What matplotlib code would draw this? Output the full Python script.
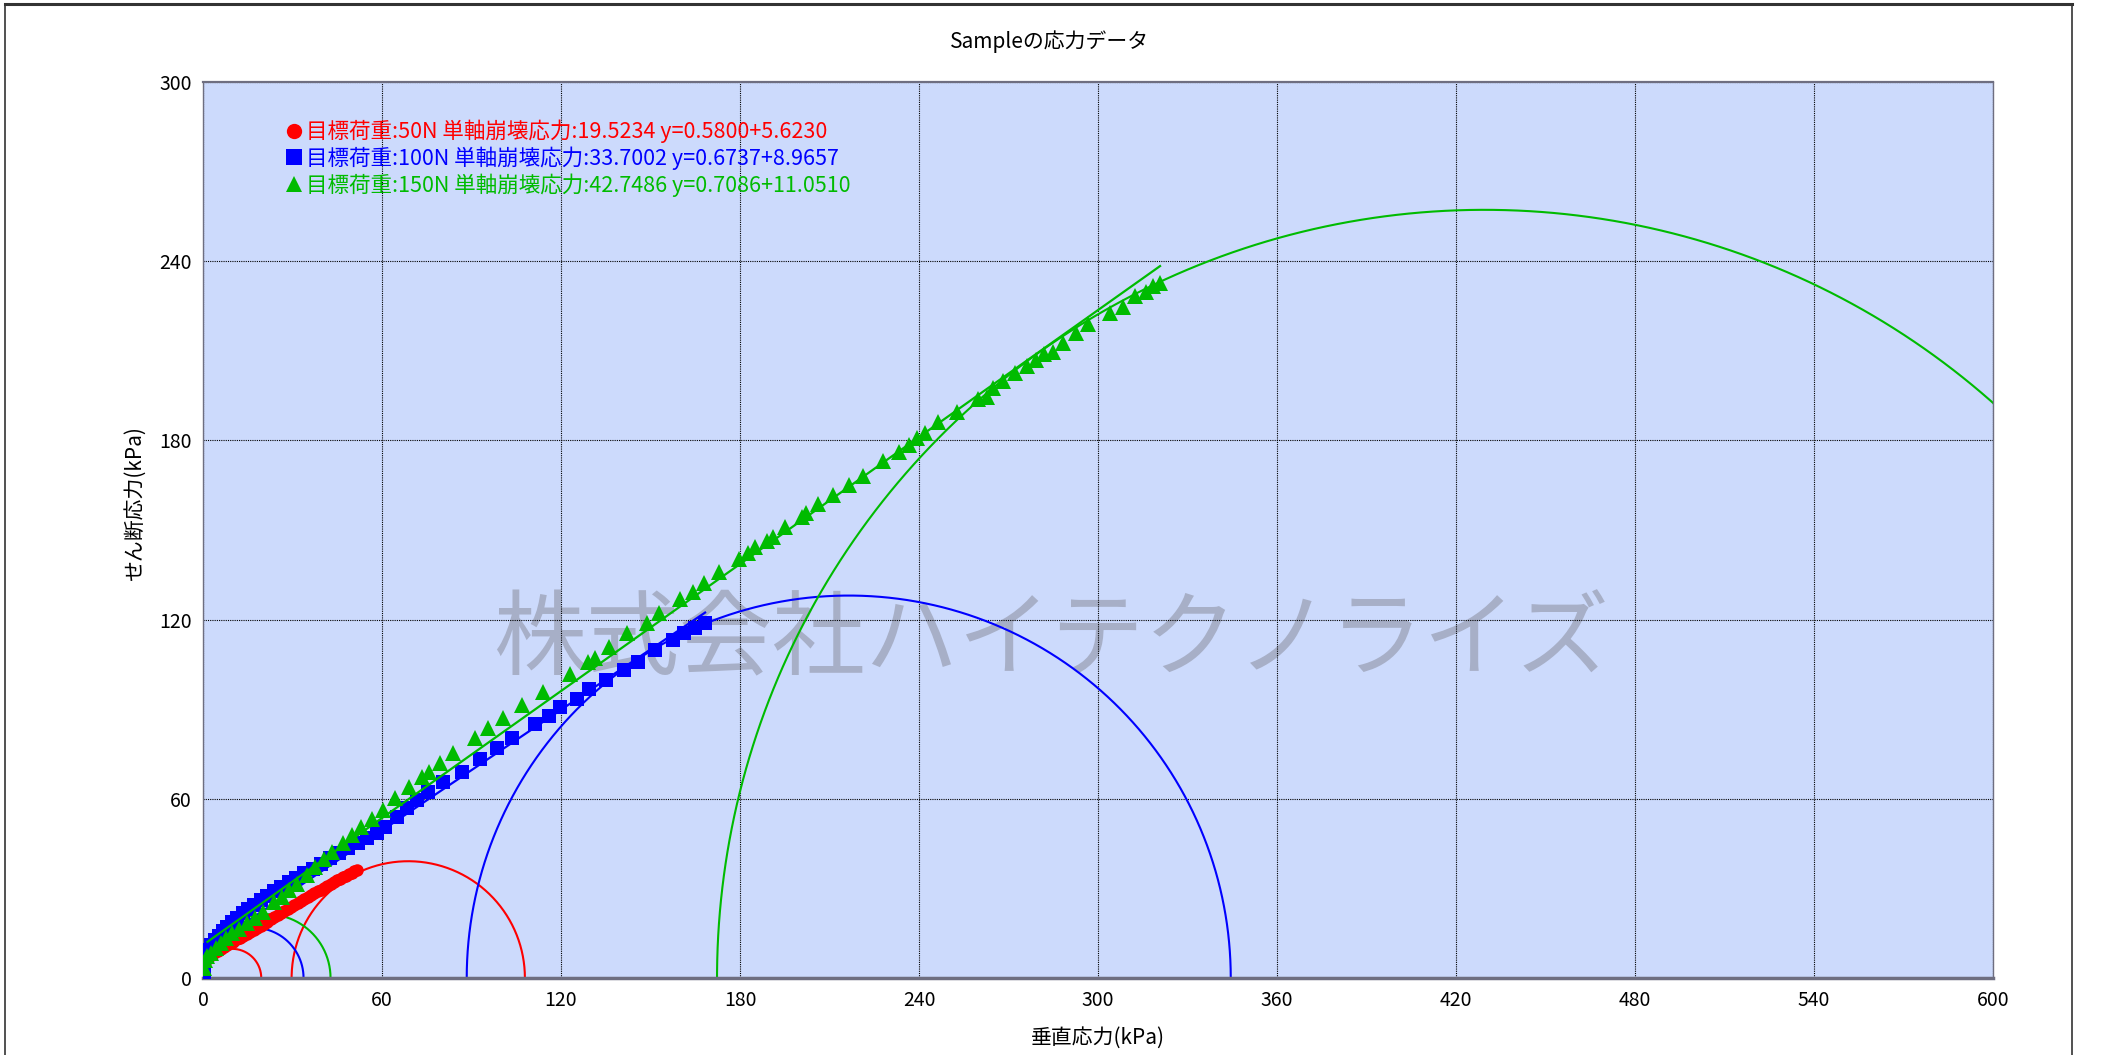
import matplotlib.pyplot as plt
from matplotlib.lines import Line2D
import numpy as np

plt.rcParams['font.family'] = ['Noto Sans CJK JP', 'DejaVu Sans']

# 測定点 (垂直応力, せん断応力) kPa
red_x = [0.3, 0.8, 1.5, 2.3, 3.2, 4.1, 5.0, 6.0, 7.0, 8.0, 9.1, 10.2, 11.3, 12.4, 13.5,
         14.6, 15.8, 17.0, 18.1, 19.3, 20.4, 21.5, 22.7, 23.8, 25.0, 26.1, 27.2, 28.4,
         29.5, 30.6, 31.8, 32.9, 34.0, 35.1, 36.2, 37.3, 38.4, 39.5, 40.6, 41.7, 42.8,
         43.9, 44.9, 45.9, 46.9, 47.9, 48.9, 49.8, 50.7, 51.5]
red_y = [3.5, 5.2, 6.3, 7.2, 7.9, 8.6, 9.2, 9.8, 10.4, 11.0, 11.6, 12.2, 12.9, 13.5, 14.1,
         14.7, 15.4, 16.1, 16.8, 17.5, 18.2, 18.9, 19.6, 20.3, 21.0, 21.7, 22.4, 23.1,
         23.8, 24.5, 25.1, 25.8, 26.4, 27.1, 27.7, 28.4, 29.0, 29.6, 30.2, 30.9, 31.5,
         32.1, 32.7, 33.2, 33.8, 34.3, 34.8, 35.3, 35.7, 36.1]

blue_x = [0.2, 0.5, 1.0, 1.8, 2.8, 4.0, 5.3, 6.7, 8.2, 9.8, 11.5, 13.3, 15.2, 17.2, 19.3,
          21.5, 23.8, 26.2, 28.7, 31.3, 34.0, 36.8, 39.7, 42.6, 45.6, 48.7, 51.8, 55.0,
          58.2, 61.0, 64.9, 68.3, 71.6, 75.5, 80.6, 86.7, 92.9, 98.7, 103.5, 111.3, 116.1,
          119.7, 125.3, 129.5, 135.1, 141.1, 145.9, 151.5, 157.5, 161.3, 164.9, 168.3]
blue_y = [1.5, 4.8, 7.2, 9.3, 11.0, 12.6, 14.1, 15.6, 17.1, 18.6, 20.1, 21.6, 23.1, 24.6,
          26.1, 27.6, 29.1, 30.6, 32.1, 33.6, 35.1, 36.6, 38.3, 40.2, 41.8, 43.5, 45.1,
          46.9, 48.7, 50.6, 54.0, 56.8, 59.6, 62.4, 65.7, 69.1, 73.2, 76.9, 80.2, 85.0,
          87.7, 90.6, 93.3, 96.7, 99.8, 103.1, 105.9, 109.8, 113.2, 115.4, 117.1, 118.9]

green_x = [0.3, 0.8, 1.5, 2.7, 4.2, 5.9, 7.8, 9.8, 12.2, 14.9, 17.3, 20.0, 23.9, 26.4, 28.7,
           31.5, 34.7, 37.5, 40.6, 43.1, 46.9, 49.8, 52.8, 56.5, 60.5, 64.4, 69.2, 73.3,
           75.6, 79.5, 83.9, 91.2, 95.6, 100.6, 106.8, 114.1, 123.0, 129.2, 131.4, 136.2,
           142.1, 148.7, 152.8, 160.0, 164.2, 167.8, 172.8, 179.5, 182.8, 185.0, 189.0,
           191.2, 195.1, 200.7, 202.1, 206.3, 211.3, 216.5, 221.2, 228.0, 233.4, 236.5,
           239.4, 242.0, 246.5, 252.7, 259.9, 262.7, 264.9, 268.1, 272.2, 276.1, 279.2,
           281.9, 285.0, 288.4, 292.7, 296.8, 304.1, 308.3, 312.4, 316.1, 318.6, 320.8]
green_y = [3.5, 6.0, 7.2, 8.3, 10.0, 11.6, 13.3, 14.9, 16.5, 18.3, 20.0, 22.2, 25.5, 27.2,
           29.3, 31.6, 34.6, 37.0, 39.8, 42.2, 45.3, 47.9, 50.4, 53.4, 56.4, 60.2, 64.0,
           67.4, 69.1, 72.1, 75.2, 80.2, 83.6, 86.9, 91.4, 95.9, 101.8, 105.9, 107.0, 110.9,
           115.4, 118.9, 122.3, 127.0, 129.3, 132.3, 136.1, 140.2, 142.2, 144.2, 146.4,
           147.7, 150.9, 154.3, 155.6, 158.7, 161.7, 165.0, 168.0, 173.0, 176.2, 178.5,
           180.7, 182.6, 186.2, 189.6, 194.0, 194.6, 197.7, 199.9, 202.4, 204.9, 206.9,
           208.9, 209.7, 212.7, 216.0, 218.9, 222.5, 224.5, 228.2, 229.8, 231.7, 232.6]

# 近似直線 y = a*x + b と描画範囲
fit_a = [0.5800, 0.6737, 0.7086]
fit_b = [5.6230, 8.9657, 11.0510]
fit_range = [(0.5, 52.0), (0.5, 168.3), (1.5, 320.8)]

# 一軸崩壊応力 (Mohr 円 0〜qu) と 三軸 Mohr 円 (σ3, σ1)
qu = [19.5234, 33.7002, 42.7486]
mohr = [(29.7, 107.9), (88.4, 344.5), (172.3, 686.7)]

labels = ['目標荷重:50N 単軸崩壊応力:19.5234 y=0.5800+5.6230',
          '目標荷重:100N 単軸崩壊応力:33.7002 y=0.6737+8.9657',
          '目標荷重:150N 単軸崩壊応力:42.7486 y=0.7086+11.0510']
colors = ['#FF0000', '#0000FF', '#00BB00']
markers = ['o', 's', '^']
msizes = [9, 10.5, 11]

fig = plt.figure(figsize=(21.09, 10.55), dpi=100, facecolor='white')
ax = fig.add_axes([203 / 2109, 1 - 978 / 1055, 1790 / 2109, 896 / 1055])
ax.set_facecolor('#CCDAFC')

theta = np.linspace(0, np.pi, 400)
series = [(red_x, red_y), (blue_x, blue_y), (green_x, green_y)]
for i, (xs, ys) in enumerate(series):
    c = colors[i]
    ax.plot(xs, ys, ls='none', marker=markers[i], ms=msizes[i], color=c, mew=0, zorder=3)
    x0, x1 = fit_range[i]
    ax.plot([x0, x1], [fit_a[i] * x0 + fit_b[i], fit_a[i] * x1 + fit_b[i]],
            color=c, lw=1.6, zorder=3)
    r = qu[i] / 2
    ax.plot(r + r * np.cos(theta), r * np.sin(theta), color=c, lw=1.5, zorder=2)
    s3, s1 = mohr[i]
    cen, rad = (s1 + s3) / 2, (s1 - s3) / 2
    ax.plot(cen + rad * np.cos(theta), rad * np.sin(theta), color=c, lw=1.5, zorder=2)

ax.set_xlim(0, 600)
ax.set_ylim(0, 300)
ax.set_xticks(np.arange(0, 601, 60))
ax.set_yticks(np.arange(0, 301, 60))
ax.tick_params(length=0, labelsize=14)
ax.tick_params(axis='x', pad=9)
ax.tick_params(axis='y', pad=8)
ax.set_axisbelow(True)
ax.grid(True, color='black', ls=(0, (1, 1)), lw=0.8)
for side, lw in [('bottom', 2.5), ('top', 1.6), ('left', 1.0), ('right', 1.0)]:
    ax.spines[side].set_color('#6E6E80')
    ax.spines[side].set_linewidth(lw)

ax.set_xlabel('垂直応力(kPa)', fontsize=15)
ax.xaxis.label.set_va('center')
ax.xaxis.set_label_coords(0.5, (978 - 1038) / 896)
ax.set_ylabel('せん断応力(kPa)', fontsize=15)
ax.yaxis.label.set_va('center')
ax.yaxis.set_label_coords((134.5 - 203) / 1790, 0.53)

fig.text(0.4975, 1 - 42 / 1055, 'Sampleの応力データ', fontsize=15, ha='center', va='center')

# 透かし
ax.text(0.4737, 0.375, '株式会社ハイテクノライズ', transform=ax.transAxes, fontsize=67,
        color='#A7AFC7', ha='center', va='center', zorder=0.3)

handles = [Line2D([], [], ls='none', marker=m, ms=11, color=c, mew=0)
           for m, c in zip(markers, colors)]
leg = ax.legend(handles, labels, loc='upper left', bbox_to_anchor=(0.046, 0.958),
                frameon=False, fontsize=15.5, handlelength=0.8, handletextpad=0.15,
                labelspacing=0.15, borderpad=0, borderaxespad=0)
for t, c in zip(leg.get_texts(), colors):
    t.set_color(c)

# 外枠
fx0, fx1, fy = 5 / 2109, 2072 / 2109, 1 - 4 / 1055
fig.add_artist(Line2D([fx0, fx1], [fy, fy], transform=fig.transFigure, color='#333333', lw=2.2))
fig.add_artist(Line2D([fx0, fx0], [0, fy], transform=fig.transFigure, color='#333333', lw=1.2))
fig.add_artist(Line2D([fx1, fx1], [0, fy], transform=fig.transFigure, color='#333333', lw=1.2))

fig.savefig('out.png', dpi=100)
